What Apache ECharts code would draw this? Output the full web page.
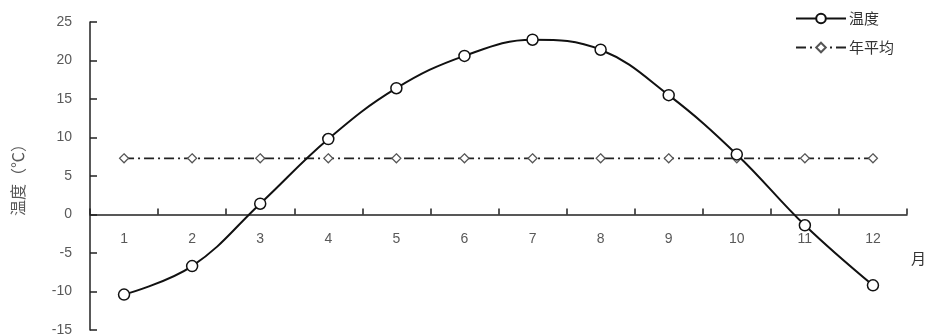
<!DOCTYPE html>
<html>
<head>
<meta charset="utf-8">
<script src="https://cdn.jsdelivr.net/npm/echarts@6/dist/echarts.min.js"></script>
<style>
  html, body { margin: 0; padding: 0; background: #fff; }
  #chart { width: 925px; height: 336px; }
</style>
</head>
<body>
<div id="chart"></div>
<script>
// 月份、温度、年平均
const months = ['1', '2', '3', '4', '5', '6', '7', '8', '9', '10', '11', '12']
const temps = [-10.4, -6.7, 1.4, 9.8, 16.4, 20.6, 22.7, 21.4, 15.5, 7.8, -1.4, -9.2]
const avgTemp = [7.3, 7.3, 7.3, 7.3, 7.3, 7.3, 7.3, 7.3, 7.3, 7.3, 7.3, 7.3]

const labelFont = { color: '#595959', fontSize: 14, fontFamily: 'Liberation Sans, Noto Sans CJK SC, sans-serif' }

// 绘图区：y 从 -15 到 25，x 轴放在 0 的位置
const gridTop = 22
const gridBottom = 6
const plotHeight = 336 - gridTop - gridBottom
const zeroOffset = -(plotHeight * 15 / 40)

const myChart = echarts.init(document.getElementById('chart'))
const option = {
  animation: false,
  grid: { left: 90, right: 18, top: gridTop, bottom: gridBottom, containLabel: false, outerBoundsMode: 'none' },
  legend: {
    orient: 'vertical',
    right: 26,
    top: 6,
    itemWidth: 50,
    itemHeight: 12,
    itemGap: 14,
    textStyle: { color: '#333', fontSize: 15, fontFamily: 'Noto Sans CJK SC', padding: [0, 0, 0, -2] },
    data: ['温度', '年平均']
  },
  xAxis: {
    type: 'category',
    data: months,
    boundaryGap: true,
    position: 'bottom',
    offset: zeroOffset,
    name: '\n月',
    nameLocation: 'end',
    nameGap: 4,
    nameTextStyle: { color: '#333', fontSize: 15, fontFamily: 'Noto Sans CJK SC', verticalAlign: 'top', lineHeight: 29 },
    axisLine: { show: true, onZero: false, lineStyle: { color: '#222', width: 1.5 } },
    axisTick: { show: true, inside: true, length: 6, lineStyle: { color: '#222', width: 1.5 } },
    axisLabel: Object.assign({ margin: 18 }, labelFont),
    splitLine: { show: false }
  },
  yAxis: {
    type: 'value',
    min: -15,
    max: 25,
    interval: 5,
    name: '温度（℃）',
    nameLocation: 'middle',
    nameGap: 64,
    nameTextStyle: { color: '#595959', fontSize: 16, fontFamily: 'Noto Sans CJK SC' },
    axisLine: { show: true, lineStyle: { color: '#222', width: 1.5 } },
    axisTick: { show: true, inside: true, length: 7, lineStyle: { color: '#222', width: 1.5 } },
    axisLabel: Object.assign({ margin: 18 }, labelFont),
    splitLine: { show: false }
  },
  series: [
    {
      name: '温度',
      type: 'line',
      data: temps,
      smooth: 0.4,
      symbol: 'circle',
      symbolSize: 11,
      lineStyle: { color: '#111', width: 2 },
      itemStyle: { color: '#fff', borderColor: '#111', borderWidth: 1.5 },
      z: 3
    },
    {
      name: '年平均',
      type: 'line',
      data: avgTemp,
      symbol: 'diamond',
      symbolSize: 9,
      lineStyle: { color: '#222', width: 1.8, type: [10, 4, 2, 4] },
      itemStyle: { color: '#fff', borderColor: '#555', borderWidth: 1.2 },
      z: 2
    }
  ]
}
option && myChart.setOption(option)
</script>
</body>
</html>
